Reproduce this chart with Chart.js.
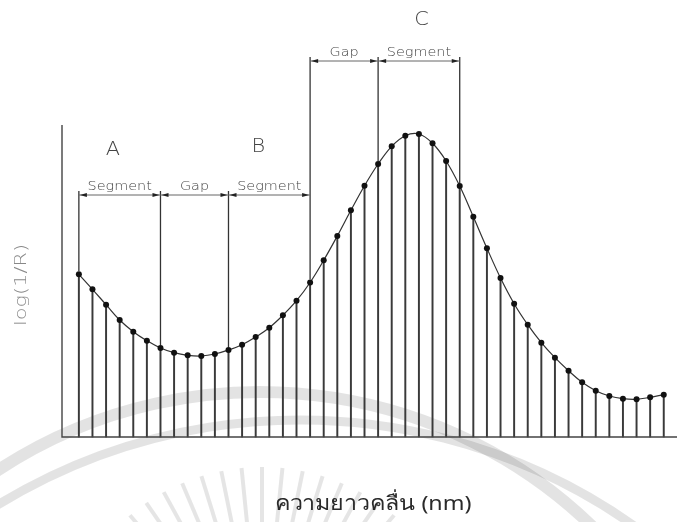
<!DOCTYPE html>
<html><head><meta charset="utf-8">
<script src="https://cdn.jsdelivr.net/npm/chart.js@4.4.1/dist/chart.umd.min.js"></script>
<style>html,body{margin:0;padding:0;background:#fff;}#wrap{width:677px;height:522px;}</style>
</head><body><div id="wrap"><canvas id="c" width="677" height="522"></canvas></div>
<script>
// wavelength sample index (categories)
const wavelengthIndex = [0,1,2,3,4,5,6,7,8,9,10,11,12,13,14,15,16,17,18,19,20,21,22,23,24,25,26,27,28,29,30,31,32,33,34,35,36,37,38,39,40,41,42,43];
// log(1/R) values
const logInvR = [1.627,1.477,1.323,1.170,1.053,0.963,0.890,0.843,0.817,0.810,0.830,0.870,0.923,1.000,1.093,1.217,1.363,1.545,1.767,2.010,2.267,2.513,2.730,2.907,3.013,3.030,2.937,2.760,2.510,2.203,1.888,1.590,1.333,1.123,0.943,0.793,0.663,0.547,0.463,0.410,0.383,0.377,0.397,0.423];
// bracket definitions
const bracketStart = [0, 6, 11, 17, 22];
const bracketEnd   = [6, 11, 17, 22, 28];
const bracketLabel = ['Segment','Gap','Segment','Gap','Segment'];
const bracketLevel = [2.42, 2.42, 2.42, 3.76, 3.76];
const groupLabel = ['A','B','C'];
const groupCenter = [2.5, 13.2, 25.2];
const groupLevel = [2.87, 2.90, 4.17];
const yTitle = 'log(1/R)';
const xTitle = 'ความยาวคลื่น (nm)';

const pts = wavelengthIndex.map((x,i)=>({x:x,y:logInvR[i]}));

function stretchedText(ctx, text, x, y, width){
  const w = ctx.measureText(text).width;
  ctx.save(); ctx.translate(x, y); ctx.scale(width/w, 1);
  ctx.fillText(text, 0, 0); ctx.restore();
}

const watermark = {
  id:'watermark',
  beforeDatasetsDraw(chart){
    const ctx = chart.ctx;
    ctx.save();
    ctx.strokeStyle = 'rgba(0,0,0,0.11)';
    ctx.lineWidth = 12;
    ctx.beginPath(); ctx.arc(260,870,478,Math.PI*1.05,Math.PI*1.95); ctx.stroke();
    ctx.lineWidth = 9;
    ctx.beginPath(); ctx.arc(300,1000,580,Math.PI*1.2,Math.PI*1.8); ctx.stroke();
    ctx.lineWidth = 4;
    ctx.strokeStyle = 'rgba(0,0,0,0.10)';
    for(let k=-7;k<=7;k++){
      const a = -Math.PI/2 + k*0.1;
      ctx.beginPath();
      ctx.moveTo(262+205*Math.cos(a),672+205*Math.sin(a));
      ctx.lineTo(262+140*Math.cos(a),672+140*Math.sin(a));
      ctx.stroke();
    }
    ctx.restore();
  }
};

const annot = {
  id:'annot',
  afterDraw(chart){
    const ctx = chart.ctx, xs = chart.scales.x, ys = chart.scales.y, ca = chart.chartArea;
    ctx.save();
    ctx.strokeStyle = '#444'; ctx.lineWidth = 1.4;
    ctx.beginPath(); ctx.moveTo(ca.left, ca.top); ctx.lineTo(ca.left, ca.bottom); ctx.lineTo(chart.width, ca.bottom); ctx.stroke();
    const verts = {};
    for(let i=0;i<bracketStart.length;i++){
      [bracketStart[i], bracketEnd[i]].forEach(ix=>{ verts[ix] = Math.max(verts[ix]||0, bracketLevel[i]); });
    }
    ctx.strokeStyle = '#333'; ctx.lineWidth = 1.3;
    Object.keys(verts).forEach(ix=>{
      const x = xs.getPixelForValue(+ix);
      const top = ys.getPixelForValue(verts[ix]) - 4;
      const v = logInvR[+ix];
      ctx.beginPath(); ctx.moveTo(x, top); ctx.lineTo(x, ys.getPixelForValue(v) - 3); ctx.stroke();
    });
    for(let i=0;i<bracketStart.length;i++){
      const x1 = xs.getPixelForValue(bracketStart[i]);
      const x2 = xs.getPixelForValue(bracketEnd[i]);
      const yb = ys.getPixelForValue(bracketLevel[i]);
      ctx.strokeStyle = '#666'; ctx.lineWidth = 1;
      ctx.beginPath(); ctx.moveTo(x1,yb); ctx.lineTo(x2,yb); ctx.stroke();
      ctx.fillStyle = '#222';
      ctx.beginPath(); ctx.moveTo(x1+1,yb); ctx.lineTo(x1+8,yb-2); ctx.lineTo(x1+8,yb+2); ctx.closePath(); ctx.fill();
      ctx.beginPath(); ctx.moveTo(x2-1,yb); ctx.lineTo(x2-8,yb-2); ctx.lineTo(x2-8,yb+2); ctx.closePath(); ctx.fill();
      ctx.fillStyle = '#444';
      ctx.font = '300 12px "DejaVu Sans"';
      ctx.textAlign = 'center'; ctx.textBaseline = 'alphabetic';
      const w = ctx.measureText(bracketLabel[i]).width * 1.2;
      stretchedText(ctx, bracketLabel[i], (x1+x2)/2, yb-5, w);
    }
    ctx.font = '200 19px "DejaVu Sans"';
    ctx.fillStyle = '#444'; ctx.textAlign='center'; ctx.textBaseline='middle';
    for(let i=0;i<groupLabel.length;i++){
      stretchedText(ctx, groupLabel[i], xs.getPixelForValue(groupCenter[i]), ys.getPixelForValue(groupLevel[i]), ctx.measureText(groupLabel[i]).width*1.1);
    }
    ctx.save();
    ctx.translate(22, 285); ctx.rotate(-Math.PI/2);
    ctx.font = '300 15px "DejaVu Sans"'; ctx.fillStyle = '#888';
    stretchedText(ctx, yTitle, 0, 0, 82);
    ctx.restore();
    ctx.font = '20px "Noto Sans", "DejaVu Sans", sans-serif'; ctx.fillStyle = '#2a2a2a';
    stretchedText(ctx, xTitle, 373, 504, 197);
    ctx.restore();
  }
};

new Chart(document.getElementById('c'), {
  type:'line',
  data:{
    datasets:[
      {type:'bar', data:pts, backgroundColor:'#3a3a3a', barThickness:1.3, clip:false, order:2},
      {type:'line', data:pts, borderColor:'#333', borderWidth:1.2, tension:0.4, pointRadius:3, pointBackgroundColor:'#111', pointBorderColor:'#111', pointBorderWidth:0, clip:false, order:1}
    ]
  },
  options:{
    responsive:false, animation:false,
    layout:{padding:{left:62,right:0,top:125,bottom:85}},
    plugins:{legend:{display:false},tooltip:{enabled:false}},
    scales:{
      x:{type:'linear', min:-1.24, max:43.68, display:false, offset:false},
      y:{type:'linear', min:0, max:3.12, display:false}
    }
  },
  plugins:[watermark, annot]
});
</script></body></html>
